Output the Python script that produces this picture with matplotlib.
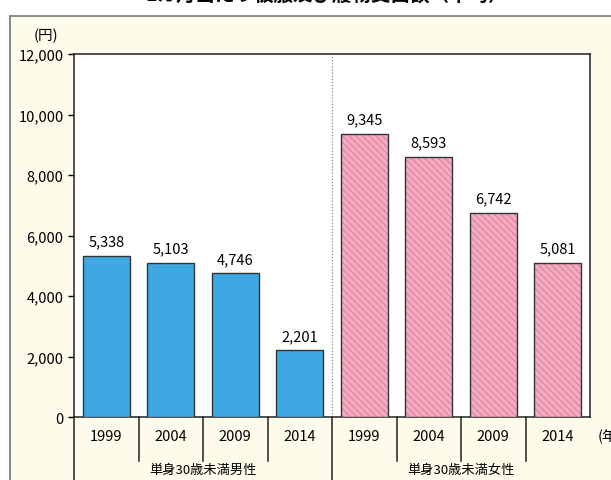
import numpy as np
import matplotlib
matplotlib.use('Agg')
import matplotlib.pyplot as plt
import matplotlib.patches as mpatches
import matplotlib.transforms as mtransforms

plt.rcParams['font.family'] = ['Noto Sans CJK JP', 'DejaVu Sans']
plt.rcParams['hatch.linewidth'] = 0.7

# データ
years = ['1999', '2004', '2009', '2014']
groups = ['単身30歳未満男性', '単身30歳未満女性']
male = [5338, 5103, 4746, 2201]
female = [9345, 8593, 6742, 5081]
yticks = [0, 2000, 4000, 6000, 8000, 10000, 12000]
title = '1カ月当たり被服及び履物支出額（平均）'

W, H = 611, 481
fig = plt.figure(figsize=(W / 100, H / 100), dpi=100)
fig.patch.set_facecolor('white')

# 背景パネル（クリーム色）
panel = mpatches.Rectangle((10 / W, -0.01), 1 - 10 / W + 0.01, 1 - 17 / H + 0.01,
                           transform=fig.transFigure, facecolor='#fdfbea',
                           edgecolor='#777777', linewidth=1.2, zorder=-10)
fig.patches.append(panel)

# タイトル（上端で切れている）
fig.text(0.535, 1 + 5 / H, title, ha='center', va='center', fontsize=14, fontweight='bold')

# 軸の位置（ピクセル → 図座標）
x0, x1, ytop, ybot = 74, 590, 55, 418
ax = fig.add_axes([x0 / W, 1 - ybot / H, (x1 - x0) / W, (ybot - ytop) / H])
ax.set_facecolor('white')

values = male + female
xs = np.arange(len(values))
for i, (x, v) in enumerate(zip(xs, values)):
    if i < 4:
        ax.bar(x, v, width=0.73, color='#3ea8e2', edgecolor='#333333', linewidth=1.0, zorder=3)
    else:
        ax.bar(x, v, width=0.73, color='#f3abbf', linewidth=0, zorder=3)
        ax.bar(x, v, width=0.73, facecolor='none', edgecolor='#dc7d99', hatch='\\\\\\\\\\',
               linewidth=0, zorder=3.5)
        ax.bar(x, v, width=0.73, facecolor='none', edgecolor='#333333', linewidth=1.0, zorder=4)
    ax.text(x, v + 250, f'{v:,}', ha='center', va='bottom', fontsize=10.5, zorder=5)

ax.set_xlim(-0.5, 7.5)
ax.set_ylim(0, 12000)
ax.set_yticks(yticks)
ax.set_yticklabels([f'{t:,}' for t in yticks], fontsize=10.5)
ax.set_xticks([])
ax.tick_params(axis='y', length=4, width=1, direction='out')
for s in ax.spines.values():
    s.set_color('#222222')
    s.set_linewidth(1.1)

# 中央の点線
ax.axvline(3.5, color='#888888', linestyle=(0, (1, 1.5)), linewidth=0.9, zorder=2)

# 下部のカテゴリ表示
trans = mtransforms.blended_transform_factory(ax.transData, ax.transAxes)
px = 1.0 / (ybot - ytop)
for i, x in enumerate(xs):
    ax.text(x, -(437 - ybot) * px, years[i % 4], transform=trans, ha='center', va='center',
            fontsize=10.5, clip_on=False)
for x in [0.5, 1.5, 2.5, 4.5, 5.5, 6.5]:
    ax.plot([x, x], [0, -(462 - ybot) * px], transform=trans, color='#222222',
            linewidth=1.1, clip_on=False)
for x in [-0.5, 3.5]:
    ax.plot([x, x], [0, -(H - ybot + 2) * px], transform=trans, color='#222222',
            linewidth=1.1, clip_on=False)
for g, x in zip(groups, [1.5, 5.5]):
    ax.text(x, -(470 - ybot) * px, g, transform=trans, ha='center', va='center',
            fontsize=9.5, clip_on=False)
ax.text(7.62, -(437 - ybot) * px, '(年', transform=trans, ha='left', va='center',
        fontsize=10.5, clip_on=False)

fig.text(46 / W, 1 - 36 / H, '(円)', ha='center', va='center', fontsize=10.5)

fig.savefig('out.png', dpi=100)
